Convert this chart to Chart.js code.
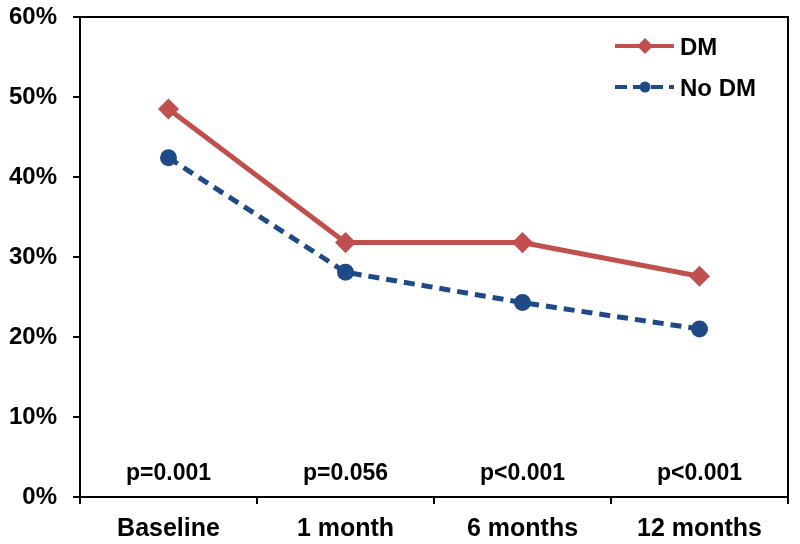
<!DOCTYPE html>
<html>
<head>
<meta charset="utf-8">
<script src="https://cdn.jsdelivr.net/npm/chart.js@4/dist/chart.umd.min.js"></script>
<style>
  html, body { margin: 0; padding: 0; background: #fff; }
  #wrap { width: 800px; height: 544px; }
</style>
</head>
<body>
<div id="wrap"><canvas id="chart" width="800" height="544"></canvas></div>
<script>
const categories = ['Baseline', '1 month', '6 months', '12 months'];
const dmValues = [48.5, 31.8, 31.8, 27.6];
const noDmValues = [42.4, 28.1, 24.3, 21.0];
const pValues = ['p=0.001', 'p=0.056', 'p<0.001', 'p<0.001'];

const FONT = '"Liberation Sans", Arial, sans-serif';
const RED = '#C0504D';
const BLUE = '#1F4A87';

// frame (top + right edge), p-values and legend
const extras = {
    id: 'extras',
    afterDraw(chart) {
        const { ctx, chartArea: a, scales } = chart;
        ctx.save();
        ctx.strokeStyle = '#000';
        ctx.lineWidth = 2;
        ctx.beginPath();
        ctx.moveTo(a.left, a.top);
        ctx.lineTo(a.right, a.top);
        ctx.lineTo(a.right, a.bottom);
        ctx.stroke();

        ctx.fillStyle = '#000';
        ctx.font = 'bold 23px ' + FONT;
        ctx.textAlign = 'center';
        ctx.textBaseline = 'alphabetic';
        pValues.forEach((p, i) => {
            ctx.fillText(p, scales.x.getPixelForValue(i), 480);
        });

        const items = chart.data.datasets;
        items.forEach((ds, i) => {
            const y = 46 + i * 41;
            ctx.strokeStyle = ds.borderColor;
            ctx.lineWidth = 4;
            ctx.setLineDash(ds.borderDash ? [12, 6] : []);
            ctx.beginPath();
            ctx.moveTo(615, y);
            ctx.lineTo(674, y);
            ctx.stroke();
            ctx.setLineDash([]);
            ctx.fillStyle = ds.pointBackgroundColor;
            ctx.beginPath();
            if (ds.pointStyle === 'rectRot') {
                const r = 8;
                ctx.moveTo(645, y - r);
                ctx.lineTo(645 + r, y);
                ctx.lineTo(645, y + r);
                ctx.lineTo(645 - r, y);
                ctx.closePath();
            } else {
                ctx.arc(645, y, 5.5, 0, Math.PI * 2);
            }
            ctx.fill();
            ctx.fillStyle = '#000';
            ctx.font = 'bold 24px ' + FONT;
            ctx.textAlign = 'left';
            ctx.textBaseline = 'middle';
            ctx.fillText(ds.label, 680, y + 2);
        });
        ctx.restore();
    }
};

new Chart(document.getElementById('chart').getContext('2d'), {
    type: 'line',
    data: {
        labels: categories,
        datasets: [{
            label: 'DM',
            data: dmValues,
            borderColor: RED,
            backgroundColor: RED,
            pointBackgroundColor: RED,
            pointBorderColor: RED,
            pointStyle: 'rectRot',
            pointRadius: 7,
            borderWidth: 5,
            tension: 0
        }, {
            label: 'No DM',
            data: noDmValues,
            borderColor: BLUE,
            backgroundColor: BLUE,
            pointBackgroundColor: BLUE,
            pointBorderColor: BLUE,
            pointStyle: 'circle',
            pointRadius: 6,
            borderWidth: 5,
            borderDash: [11, 7],
            tension: 0
        }]
    },
    options: {
        responsive: false,
        animation: false,
        layout: { padding: { top: 17, right: 8, left: 0, bottom: 0 } },
        plugins: {
            legend: { display: false },
            tooltip: { enabled: false }
        },
        scales: {
            x: {
                offset: true,
                grid: {
                    offset: true,
                    drawOnChartArea: false,
                    drawTicks: true,
                    tickLength: 7,
                    color: '#000',
                    lineWidth: 2
                },
                border: { display: true, color: '#000', width: 2 },
                ticks: {
                    color: '#000',
                    padding: 10,
                    maxRotation: 0,
                    font: { family: FONT, size: 25, weight: 'bold' }
                },
                afterFit(scale) {
                    scale.height = 47;
                    scale.paddingLeft = 0;
                    scale.paddingRight = 0;
                }
            },
            y: {
                min: 0,
                max: 60,
                grid: {
                    drawOnChartArea: false,
                    drawTicks: true,
                    tickLength: 7,
                    color: '#000',
                    lineWidth: 2
                },
                border: { display: true, color: '#000', width: 2 },
                ticks: {
                    stepSize: 10,
                    color: '#000',
                    padding: 16,
                    font: { family: FONT, size: 24, weight: 'bold' },
                    callback: v => v + '%'
                },
                afterFit(scale) {
                    scale.width = 80;
                    scale.paddingTop = 0;
                    scale.paddingBottom = 0;
                }
            }
        }
    },
    plugins: [extras]
});
</script>
</body>
</html>
